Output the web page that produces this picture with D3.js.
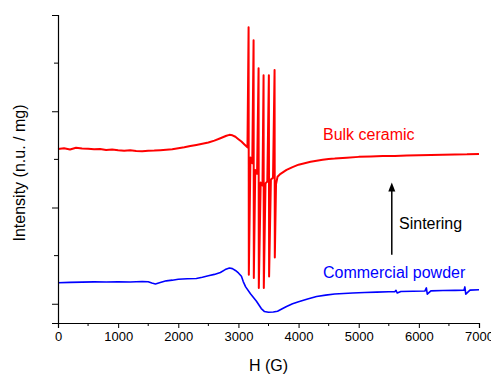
<!DOCTYPE html>
<html>
<head>
<meta charset="UTF-8">
<title>EPR</title>
<style>
  body { margin: 0; background: #fff; }
  text { font-family: "Liberation Sans", Arial, sans-serif; }
</style>
</head>
<body>
<svg width="491" height="374"></svg>
<script src="https://cdn.jsdelivr.net/npm/d3@7"></script>
<script>
// field (G) and intensity (arb. units)
var redBase = [
  [0,16.09],[100,16.15],[200,16.02],[300,16.2],[400,16.12],[500,16.1],[600,16.05],[700,16.08],
  [800,15.98],[900,16.02],[1000,15.95],[1100,15.9],[1200,15.96],[1300,15.88],[1400,15.85],
  [1500,15.9],[1600,15.92],[1700,15.96],[1800,16.0],[1900,16.05],[2000,16.15],[2100,16.25],
  [2200,16.38],[2300,16.5],[2400,16.62],[2500,16.75],[2600,16.95],[2700,17.2],[2800,17.45],
  [2850,17.55],[2900,17.5],[2950,17.35],[3000,17.1],[3050,16.85],[3100,16.55],[3150,16.25],
  [3200,15.2],[3230,14.6],[3280,13.9],[3310,13.5],[3370,12.6],[3400,12.3],[3450,12.5],
  [3480,12.7],[3540,12.9],[3575,13.1],[3625,12.4],[3650,13.2],[3700,13.5],[3800,13.9],
  [3900,14.2],[4000,14.45],[4100,14.6],[4200,14.75],[4300,14.85],[4400,14.95],[4500,15.05],
  [4600,15.08],[4800,15.18],[5000,15.26],[5200,15.3],[5400,15.35],[5600,15.36],[5800,15.4],
  [6000,15.42],[6200,15.45],[6400,15.47],[6600,15.5],[6800,15.52],[7000,15.57]
];
// Mn2+ hyperfine sextet
var sextetField = [3171, 3254, 3337, 3420, 3508, 3603];
var sextetTop = [28.72, 27.37, 24.47, 23.74, 23.74, 24.29];
var sextetBottom = [3.01, 2.67, 1.63, 1.63, 2.83, 4.81];

var blue = [
  [0,2.18],[200,2.22],[400,2.25],[600,2.27],[800,2.26],[1000,2.28],[1200,2.26],[1400,2.31],
  [1500,2.28],[1560,2.15],[1620,2.05],[1700,2.2],[1800,2.38],[1900,2.45],[2000,2.54],
  [2150,2.6],[2300,2.63],[2400,2.75],[2500,2.91],[2600,3.05],[2700,3.25],[2780,3.55],
  [2850,3.71],[2900,3.65],[2950,3.46],[3000,3.2],[3050,2.85],[3080,2.3],[3120,1.75],
  [3200,1.04],[3300,0.26],[3380,-0.5],[3430,-0.8],[3500,-0.88],[3580,-0.86],[3650,-0.78],
  [3720,-0.55],[3800,-0.28],[3900,0.0],[4000,0.21],[4150,0.5],[4300,0.76],[4450,0.9],
  [4600,1.01],[4750,1.07],[4900,1.11],[5100,1.17],[5300,1.21],[5500,1.24],[5600,1.25],
  [5620,1.4],[5640,1.12],[5700,1.27],[5900,1.3],[6100,1.32],[6125,1.65],[6140,1.0],
  [6200,1.34],[6400,1.37],[6600,1.39],[6750,1.4],[6765,1.75],[6780,1.0],[6850,1.42],[7000,1.45]
];

var xTicks = [0, 1000, 2000, 3000, 4000, 5000, 6000, 7000];
var yTicks = [0, 10, 20, 30];

var svg = d3.select('svg');
var margin = {left: 58, right: 12, top: 15, bottom: 51};
var W = 491, H = 374;

var x = d3.scaleLinear().domain([0, 7000]).range([margin.left, W - margin.right]);
var y = d3.scaleLinear().domain([-2, 30]).range([H - margin.bottom, margin.top]);

// merge sextet lines into the red trace
var red = redBase.slice();
sextetField.forEach(function(f, i) {
  red.push([f - 2, sextetTop[i]]);
  red.push([f + 2, sextetBottom[i]]);
});
red.sort(function(a, b) { return a[0] - b[0]; });

var line = d3.line().x(function(d) { return x(d[0]); }).y(function(d) { return y(d[1]); });

svg.append('path').datum(red)
  .attr('d', line).attr('fill', 'none').attr('stroke', '#ff0000')
  .attr('stroke-width', 2).attr('stroke-linejoin', 'round');
svg.append('path').datum(blue)
  .attr('d', line).attr('fill', 'none').attr('stroke', '#0000ff')
  .attr('stroke-width', 1.6).attr('stroke-linejoin', 'round');

// x axis
var xAxis = svg.append('g').attr('transform', 'translate(0,' + y(-2) + ')')
  .call(d3.axisBottom(x).tickValues(xTicks).tickSize(5).tickPadding(4).tickFormat(d3.format('d')));
xAxis.append('g').selectAll('line').data(d3.range(500, 7000, 1000)).enter().append('line')
  .attr('x1', function(d) { return x(d); }).attr('x2', function(d) { return x(d); })
  .attr('y1', 0).attr('y2', 3).attr('stroke', '#000');
xAxis.selectAll('text').attr('font-size', 13).attr('fill', '#000')
  .style('font-family', '"Liberation Sans", Arial, sans-serif');

// y axis, no labels
var yAxis = svg.append('g').attr('transform', 'translate(' + margin.left + ',0)')
  .call(d3.axisLeft(y).tickValues(yTicks).tickSize(6).tickFormat(''));
yAxis.append('g').selectAll('line').data([5, 15, 25]).enter().append('line')
  .attr('y1', function(d) { return y(d); }).attr('y2', function(d) { return y(d); })
  .attr('x1', 0).attr('x2', -4).attr('stroke', '#000');

svg.selectAll('.domain').attr('stroke', '#000').attr('stroke-width', 1.2);
svg.selectAll('.tick line').attr('stroke', '#000');

// axis titles
svg.append('text').attr('x', x(3500)).attr('y', 371).attr('text-anchor', 'middle')
  .attr('font-size', 16).text('H (G)');
svg.append('text').attr('transform', 'translate(24.5,173) rotate(-90)')
  .attr('text-anchor', 'middle').attr('font-size', 16).text('Intensity (n.u. / mg)');

// annotations
svg.append('text').attr('x', x(4406)).attr('y', y(17.0)).attr('font-size', 16)
  .attr('fill', '#ff0000').text('Bulk ceramic');
svg.append('text').attr('x', x(4406)).attr('y', y(2.7)).attr('font-size', 16)
  .attr('fill', '#0000ff').text('Commercial powder');
svg.append('text').attr('x', x(5670)).attr('y', y(7.75)).attr('font-size', 16)
  .attr('fill', '#000').text('Sintering');

var ax = x(5550);
svg.append('line').attr('x1', ax).attr('x2', ax).attr('y1', y(5.1)).attr('y2', y(11.8))
  .attr('stroke', '#000').attr('stroke-width', 1.5);
svg.append('path')
  .attr('d', 'M' + ax + ',' + y(12.6) + 'L' + (ax - 3.5) + ',' + (y(12.6) + 9) + 'L' + (ax + 3.5) + ',' + (y(12.6) + 9) + 'Z')
  .attr('fill', '#000');
</script>
</body>
</html>
